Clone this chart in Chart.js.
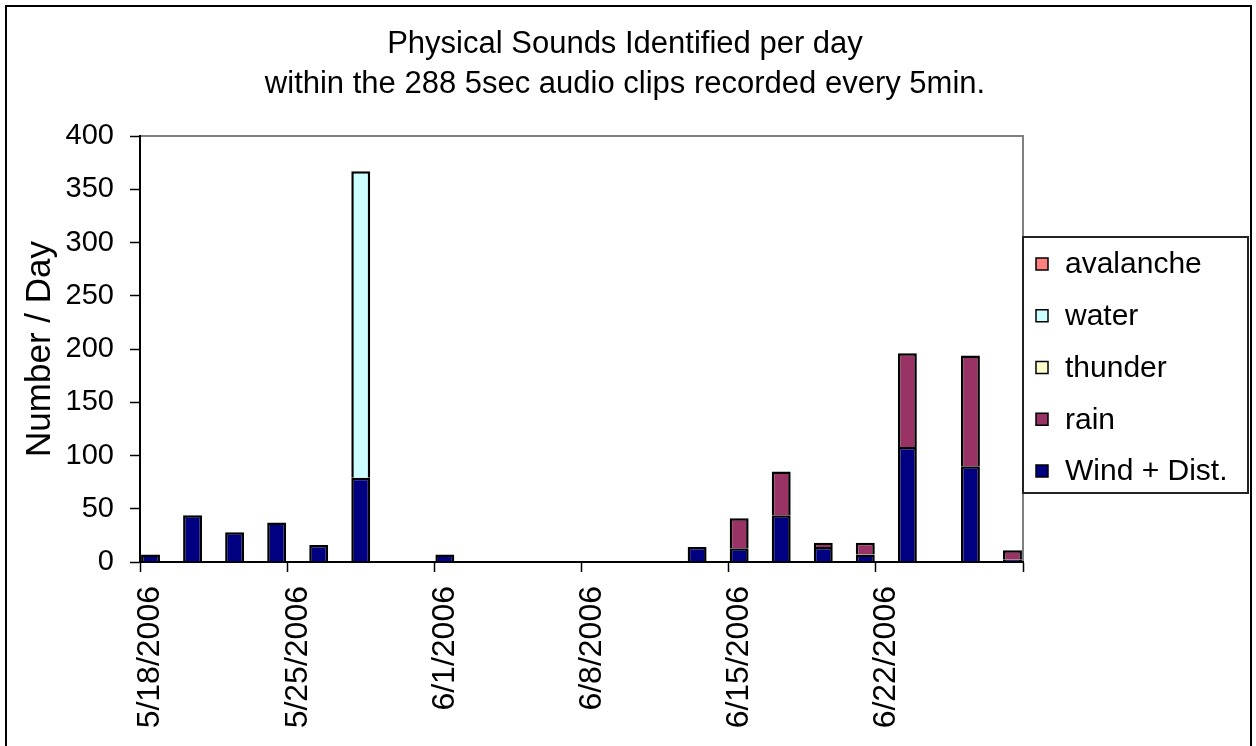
<!DOCTYPE html>
<html>
<head>
<meta charset="utf-8">
<script src="https://cdn.jsdelivr.net/npm/chart.js@4.4.0/dist/chart.umd.min.js"></script>
<style>
html,body{margin:0;padding:0;background:#fff;overflow:hidden}
canvas{display:block}
</style>
</head>
<body>
<canvas id="c" width="1256" height="746"></canvas>
<script>
// ---------- data ----------
const titleLines = ['Physical Sounds Identified per day', 'within the 288 5sec audio clips recorded every 5min.'];
const yAxisTitle = 'Number / Day';
const firstDay = [2006, 5, 18];      // year, month, day of first category
const dayCount = 42;                 // 5/18/2006 .. 6/28/2006
const tickLabels = ['5/18/2006', '5/25/2006', '6/1/2006', '6/8/2006', '6/15/2006', '6/22/2006'];
const barDates  = ['5/18/2006','5/20/2006','5/22/2006','5/24/2006','5/26/2006','5/28/2006','6/1/2006',
                   '6/13/2006','6/15/2006','6/17/2006','6/19/2006','6/21/2006','6/23/2006','6/26/2006','6/28/2006'];
const windDist  = [7, 44, 28, 37, 16, 79, 7, 14, 13, 44, 14, 7, 108, 90, 2];
const rain      = [0, 0, 0, 0, 0, 0, 0, 0, 28, 41, 4, 11, 88, 104, 9];
const thunder   = [0, 0, 0, 0, 0, 0, 0, 0, 0, 0, 0, 0, 0, 0, 0];
const water     = [0, 0, 0, 0, 0, 288, 0, 0, 0, 0, 0, 0, 0, 0, 0];
const avalanche = [0, 0, 0, 0, 0, 0, 0, 0, 0, 0, 0, 0, 0, 0, 0];
const seriesNames  = ['Wind + Dist.', 'rain', 'thunder', 'water', 'avalanche'];
const seriesValues = [windDist, rain, thunder, water, avalanche];
const seriesColors = ['#000080', '#993366', '#FFFFCC', '#CCFFFF', '#FF8080'];
const yMin = 0, yMax = 400, yStep = 50;

// ---------- build categories ----------
const categories = [];
for (let i = 0; i < dayCount; i++) {
  const d = new Date(firstDay[0], firstDay[1] - 1, firstDay[2] + i);
  categories.push((d.getMonth() + 1) + '/' + d.getDate() + '/' + d.getFullYear());
}
const toSeries = arr => categories.map(c => {
  const k = barDates.indexOf(c);
  return k < 0 ? null : arr[k];
});

const FONT = '"Liberation Sans", Arial, Helvetica, sans-serif';

const datasets = seriesNames.map((name, i) => ({
  label: name,
  data: toSeries(seriesValues[i]),
  backgroundColor: seriesColors[i],
  borderColor: '#000',
  borderWidth: 2.5,
  borderSkipped: 'start',
  categoryPercentage: 1.0,
  barPercentage: 0.9,
  yAxisID: 'y'
}));

const framePlugin = {
  id: 'frame',
  beforeDraw(chart) {
    const {ctx, chartArea: a} = chart;
    ctx.save();
    ctx.fillStyle = '#fff';
    ctx.fillRect(0, 0, chart.width, chart.height);
    ctx.strokeStyle = '#808080';
    ctx.lineWidth = 2;
    ctx.strokeRect(a.left, a.top, a.right - a.left, a.bottom - a.top);
    ctx.restore();
  },
  afterDraw(chart) {
    const {ctx, chartArea: a} = chart;
    ctx.save();
    // outer border of the picture
    ctx.strokeStyle = '#000';
    ctx.lineWidth = 2;
    ctx.strokeRect(6, 6, chart.width - 11, chart.height + 100);
    // legend box
    const lx = a.right, ly = 237, lw = 225, lh = 256;
    ctx.fillStyle = '#fff';
    ctx.fillRect(lx, ly, lw, lh);
    ctx.strokeStyle = '#222';
    ctx.lineWidth = 2;
    ctx.strokeRect(lx, ly, lw, lh);
    ctx.font = '30px ' + FONT;
    ctx.textBaseline = 'middle';
    ctx.textAlign = 'left';
    for (let k = 0; k < seriesNames.length; k++) {
      const si = seriesNames.length - 1 - k;
      const cy = ly + 27 + k * 51.75;
      ctx.fillStyle = seriesColors[si];
      ctx.fillRect(lx + 13, cy - 6, 12, 12);
      ctx.strokeStyle = '#000';
      ctx.lineWidth = 1.5;
      ctx.strokeRect(lx + 13, cy - 6, 12, 12);
      ctx.fillStyle = '#000';
      ctx.fillText(seriesNames[si], lx + 42, cy + 1);
    }
    ctx.restore();
  }
};

new Chart(document.getElementById('c'), {
  type: 'bar',
  data: { labels: categories, datasets },
  plugins: [framePlugin],
  options: {
    responsive: false,
    animation: false,
    layout: { padding: { left: 0, top: 0, right: 6, bottom: 0 } },
    plugins: {
      legend: { display: false },
      tooltip: { enabled: false },
      title: {
        display: true,
        text: titleLines,
        color: '#000',
        font: { family: FONT, size: 31, weight: 'normal', lineHeight: 40 / 31 },
        padding: { top: 24, bottom: 32 }
      }
    },
    scales: {
      x: {
        type: 'category',
        stacked: true,
        offset: true,
        grid: {
          offset: true,
          drawOnChartArea: false,
          drawTicks: true,
          tickLength: 10,
          tickWidth: 1.5,
          tickColor: c => (c.index === undefined || c.index % 7 === 0) ? '#000' : 'rgba(0,0,0,0)'
        },
        border: { display: true, color: '#000', width: 2 },
        ticks: {
          autoSkip: false,
          minRotation: 90,
          maxRotation: 90,
          padding: 14,
          color: '#000',
          font: { family: FONT, size: 32 },
          callback: function(v, i) {
            const lab = categories[i];
            return tickLabels.includes(lab) ? lab : '';
          }
        },
        afterFit(s) { s.height = 184; }
      },
      y: {
        type: 'linear',
        position: 'left',
        stacked: true,
        min: yMin,
        max: yMax,
        grid: {
          drawOnChartArea: false,
          drawTicks: true,
          tickLength: 10,
          tickWidth: 1.5,
          tickColor: '#000'
        },
        border: { display: true, color: '#000', width: 2 },
        ticks: {
          stepSize: yStep,
          padding: 16,
          color: '#000',
          font: { family: FONT, size: 29 }
        },
        title: {
          display: true,
          text: yAxisTitle,
          color: '#000',
          font: { family: FONT, size: 35, lineHeight: 1.2 },
          padding: { top: 19, bottom: 0 }
        },
        afterFit(s) { s.width = 140; }
      },
      yR: {
        type: 'linear',
        position: 'right',
        display: true,
        grid: { display: false, drawTicks: false },
        border: { display: false },
        ticks: { display: false },
        afterFit(s) { s.width = 227; }
      }
    }
  }
});
</script>
</body>
</html>
